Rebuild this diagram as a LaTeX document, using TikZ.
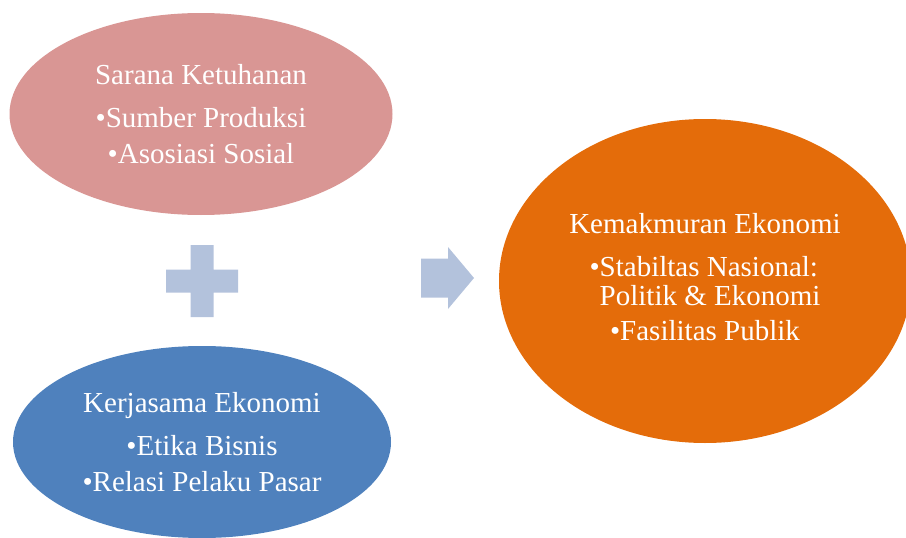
\documentclass[tikz,border=0pt]{standalone}
\usepackage{fontspec}
\setmainfont{Liberation Serif}
\usetikzlibrary{shapes.geometric,calc}

\definecolor{pinkfill}{HTML}{D99694}
\definecolor{bluefill}{HTML}{4F81BD}
\definecolor{orangefill}{HTML}{E46C0A}
\definecolor{symbolfill}{HTML}{B3C2DC}

\newcommand{\pt}[1]{\textbullet#1}

\begin{document}
\begin{tikzpicture}[x=1pt,y=-1pt,
	oval/.style={ellipse,inner sep=0pt,text=white,align=center,font=\fontsize{29}{29}\selectfont},
	symbol/.style={fill=symbolfill}]
	\useasboundingbox (0,0) rectangle (906,538);
	\node[oval,fill=pinkfill,minimum width=383,minimum height=202] (sarana) at (201,114)
		{Sarana Ketuhanan\\[14pt]\pt{Sumber Produksi}\\[7pt]\pt{Asosiasi Sosial}};
	\node[oval,fill=bluefill,minimum width=378,minimum height=192] (kerjasama) at (202,442)
		{Kerjasama Ekonomi\\[14pt]\pt{Etika Bisnis}\\[7pt]\pt{Relasi Pelaku Pasar}};
	\node[oval,fill=orangefill,minimum width=412,minimum height=324] (kemakmuran) at (705,281)
		{Kemakmuran Ekonomi\\[14pt]\textbullet\begin{tabular}[t]{@{}l@{}}Stabiltas Nasional:\\Politik \& Ekonomi\end{tabular}\\[5pt]\pt{Fasilitas Publik}\rule[-8pt]{0pt}{8pt}};
	\coordinate (plus) at (202,281);
	\coordinate (arrow) at (447.5,278);
	\fill[symbol] ($(plus)+(-11.5,-36)$) -- ++(23,0) -- ++(0,24.5) -- ++(24.5,0) -- ++(0,23)
		-- ++(-24.5,0) -- ++(0,24.5) -- ++(-23,0) -- ++(0,-24.5) -- ++(-24.5,0) -- ++(0,-23)
		-- ++(24.5,0) -- cycle;
	\fill[symbol] ($(arrow)+(-26.5,-19.5)$) -- ++(27,0) -- ++(0,-11.5) -- ++(26,31)
		-- ++(-26,31) -- ++(0,-11.5) -- ++(-27,0) -- cycle;
\end{tikzpicture}
\end{document}
